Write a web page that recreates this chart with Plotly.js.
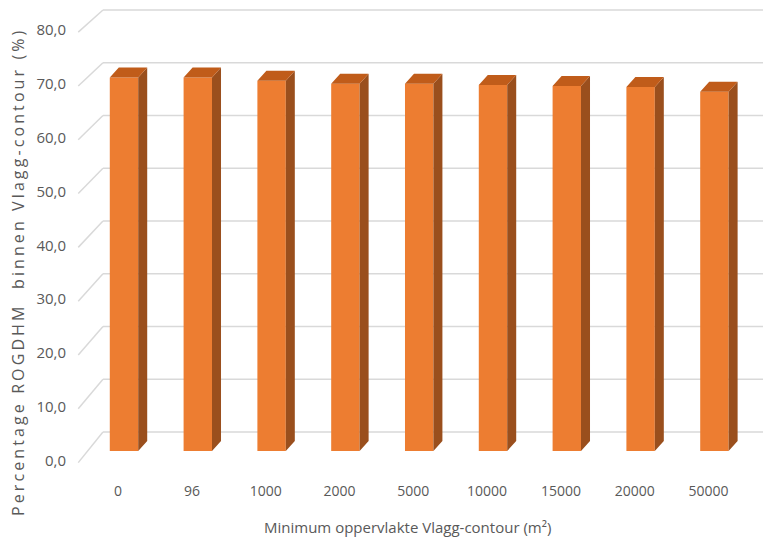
<!DOCTYPE html>
<html>
<head>
<meta charset="utf-8">
<script src="https://cdn.plot.ly/plotly-3.0.1.min.js"></script>
<style>html,body{margin:0;padding:0;background:#fff;}#chart{width:763px;height:546px;}</style>
</head>
<body>
<div id="chart"></div>
<script>
// ---- data ----
const categories = ['0', '96', '1000', '2000', '5000', '10000', '15000', '20000', '50000'];
const values = [70.8, 70.8, 70.2, 69.6, 69.6, 69.4, 69.2, 69.0, 68.1];
const yTicks = [0, 10, 20, 30, 40, 50, 60, 70, 80];
const xTitle = 'Minimum oppervlakte Vlagg-contour (m²)';
const yTitle = 'Percentage ROGDHM  binnen Vlagg-contour (%)';

// ---- 3D-look geometry (in data units) ----
const barW = 0.385;      // front face width
const depthX = 0.122;    // bar depth offset in x
const depthY = 1.9;      // bar depth offset in y
const frontX = -0.62, frontScale = 1.02, frontDy = -2.2;   // front edge of the wall
const backX = -0.285, backDy = 3.60;                        // back wall
const idx = categories.map((c, i) => i);

const FONT = '"Open Sans", "Liberation Sans", sans-serif';
const GREY = '#595959';

// side and top faces
const sideX = [], sideY = [], topX = [], topY = [];
idx.forEach(i => {
  const v = values[i];
  const r = i + barW / 2, l = i - barW / 2;
  sideX.push(r, r, r + depthX, r + depthX, r, null);
  sideY.push(0, v, v + depthY, depthY, 0, null);
  topX.push(l, r, r + depthX, l + depthX, l, null);
  topY.push(v, v, v + depthY, v + depthY, v, null);
});

const traces = [
  {type: 'bar', x: idx, y: values, width: barW, marker: {color: '#ED7D31', line: {width: 0}},
   hoverinfo: 'skip', showlegend: false},
  {type: 'scatter', mode: 'lines', x: sideX, y: sideY, fill: 'toself', fillcolor: '#9A4F1D',
   line: {width: 0, color: '#9A4F1D'}, hoverinfo: 'skip', showlegend: false},
  {type: 'scatter', mode: 'lines', x: topX, y: topY, fill: 'toself', fillcolor: '#C05C1A',
   line: {width: 0, color: '#C05C1A'}, hoverinfo: 'skip', showlegend: false}
];

// wall gridlines (drawn below the bars)
const shapes = [];
yTicks.forEach(v => {
  shapes.push({type: 'line', xref: 'x', yref: 'y', layer: 'below',
    x0: frontX, y0: v * frontScale + frontDy, x1: backX, y1: v + backDy,
    line: {color: '#d9d9d9', width: 1.5}});
  shapes.push({type: 'line', xref: 'x', yref: 'y', layer: 'below',
    x0: backX, y0: v + backDy, x1: 9.5, y1: v + backDy,
    line: {color: '#d9d9d9', width: 1.5}});
});

const layout = {
  width: 763, height: 546,
  margin: {l: 68, r: 0, t: 4, b: 70, pad: 0},
  paper_bgcolor: '#ffffff', plot_bgcolor: '#ffffff',
  showlegend: false,
  xaxis: {
    range: [-0.7588, 8.6585], showgrid: false, zeroline: false, showline: false, ticks: '',
    tickmode: 'array', tickvals: idx.map(i => i - 0.08), ticktext: categories,
    tickfont: {family: FONT, size: 14, color: GREY}, ticklabelstandoff: 5, fixedrange: true
  },
  yaxis: {
    range: [-4.74, 84.74], showgrid: false, zeroline: false, showline: false, ticks: '',
    tickmode: 'array', tickvals: yTicks.map(v => v * frontScale + frontDy + 0.4),
    ticktext: yTicks.map(v => v.toFixed(1).replace('.', ',')),
    tickfont: {family: FONT, size: 15, color: GREY}, ticklabelstandoff: 1, fixedrange: true
  },
  shapes: shapes,
  annotations: [
    {xref: 'paper', yref: 'paper', x: (407 - 68) / 695, y: (476 - 527) / 472,
     xanchor: 'center', yanchor: 'middle', showarrow: false, text: xTitle,
     font: {family: FONT, size: 15, color: GREY}},
    {xref: 'paper', yref: 'paper', x: (18 - 68) / 695, y: (476 - 272) / 472,
     xanchor: 'center', yanchor: 'middle', showarrow: false, textangle: -90,
     text: '<span style="letter-spacing:3.1px">' + yTitle + '</span>',
     font: {family: FONT, size: 16, color: GREY}}
  ]
};

Plotly.newPlot('chart', traces, layout, {displayModeBar: false, staticPlot: true});
</script>
</body>
</html>
